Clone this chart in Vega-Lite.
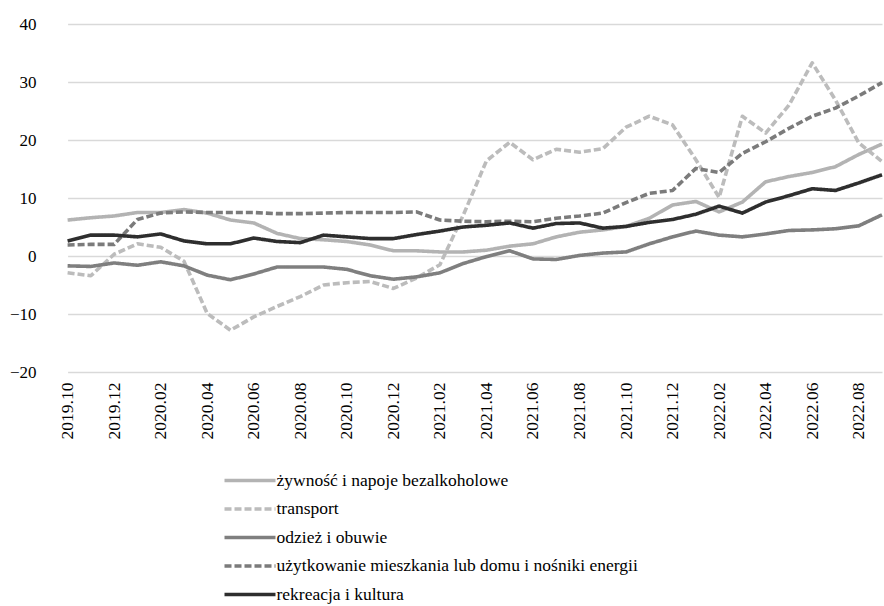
{
  "$schema": "https://vega.github.io/schema/vega-lite/v6.json",
  "autosize": "none",
  "width": 828,
  "height": 348,
  "padding": {"left": 56, "top": 24, "right": 0, "bottom": 234},
  "background": "white",
  "config": {
    "view": {"stroke": null}
  },
  "data": {
    "values": [
      {"m":"2019.10","s":"żywność i napoje bezalkoholowe","v":6.2},
      {"m":"2019.11","s":"żywność i napoje bezalkoholowe","v":6.6},
      {"m":"2019.12","s":"żywność i napoje bezalkoholowe","v":6.9},
      {"m":"2020.01","s":"żywność i napoje bezalkoholowe","v":7.5},
      {"m":"2020.02","s":"żywność i napoje bezalkoholowe","v":7.5},
      {"m":"2020.03","s":"żywność i napoje bezalkoholowe","v":8.0},
      {"m":"2020.04","s":"żywność i napoje bezalkoholowe","v":7.4},
      {"m":"2020.05","s":"żywność i napoje bezalkoholowe","v":6.2},
      {"m":"2020.06","s":"żywność i napoje bezalkoholowe","v":5.7},
      {"m":"2020.07","s":"żywność i napoje bezalkoholowe","v":3.9},
      {"m":"2020.08","s":"żywność i napoje bezalkoholowe","v":3.0},
      {"m":"2020.09","s":"żywność i napoje bezalkoholowe","v":2.8},
      {"m":"2020.10","s":"żywność i napoje bezalkoholowe","v":2.5},
      {"m":"2020.11","s":"żywność i napoje bezalkoholowe","v":1.9},
      {"m":"2020.12","s":"żywność i napoje bezalkoholowe","v":0.9},
      {"m":"2021.01","s":"żywność i napoje bezalkoholowe","v":0.9},
      {"m":"2021.02","s":"żywność i napoje bezalkoholowe","v":0.7},
      {"m":"2021.03","s":"żywność i napoje bezalkoholowe","v":0.7},
      {"m":"2021.04","s":"żywność i napoje bezalkoholowe","v":1.0},
      {"m":"2021.05","s":"żywność i napoje bezalkoholowe","v":1.7},
      {"m":"2021.06","s":"żywność i napoje bezalkoholowe","v":2.1},
      {"m":"2021.07","s":"żywność i napoje bezalkoholowe","v":3.3},
      {"m":"2021.08","s":"żywność i napoje bezalkoholowe","v":4.1},
      {"m":"2021.09","s":"żywność i napoje bezalkoholowe","v":4.5},
      {"m":"2021.10","s":"żywność i napoje bezalkoholowe","v":5.1},
      {"m":"2021.11","s":"żywność i napoje bezalkoholowe","v":6.5},
      {"m":"2021.12","s":"żywność i napoje bezalkoholowe","v":8.8},
      {"m":"2022.01","s":"żywność i napoje bezalkoholowe","v":9.4},
      {"m":"2022.02","s":"żywność i napoje bezalkoholowe","v":7.6},
      {"m":"2022.03","s":"żywność i napoje bezalkoholowe","v":9.3},
      {"m":"2022.04","s":"żywność i napoje bezalkoholowe","v":12.8},
      {"m":"2022.05","s":"żywność i napoje bezalkoholowe","v":13.7},
      {"m":"2022.06","s":"żywność i napoje bezalkoholowe","v":14.4},
      {"m":"2022.07","s":"żywność i napoje bezalkoholowe","v":15.4},
      {"m":"2022.08","s":"żywność i napoje bezalkoholowe","v":17.5},
      {"m":"2022.09","s":"żywność i napoje bezalkoholowe","v":19.3},

      {"m":"2019.10","s":"transport","v":-2.9},
      {"m":"2019.11","s":"transport","v":-3.4},
      {"m":"2019.12","s":"transport","v":0.3},
      {"m":"2020.01","s":"transport","v":2.1},
      {"m":"2020.02","s":"transport","v":1.5},
      {"m":"2020.03","s":"transport","v":-0.9},
      {"m":"2020.04","s":"transport","v":-9.9},
      {"m":"2020.05","s":"transport","v":-12.8},
      {"m":"2020.06","s":"transport","v":-10.5},
      {"m":"2020.07","s":"transport","v":-8.7},
      {"m":"2020.08","s":"transport","v":-7.0},
      {"m":"2020.09","s":"transport","v":-5.0},
      {"m":"2020.10","s":"transport","v":-4.6},
      {"m":"2020.11","s":"transport","v":-4.4},
      {"m":"2020.12","s":"transport","v":-5.6},
      {"m":"2021.01","s":"transport","v":-3.8},
      {"m":"2021.02","s":"transport","v":-1.5},
      {"m":"2021.03","s":"transport","v":7.0},
      {"m":"2021.04","s":"transport","v":16.4},
      {"m":"2021.05","s":"transport","v":19.6},
      {"m":"2021.06","s":"transport","v":16.6},
      {"m":"2021.07","s":"transport","v":18.4},
      {"m":"2021.08","s":"transport","v":17.9},
      {"m":"2021.09","s":"transport","v":18.5},
      {"m":"2021.10","s":"transport","v":22.2},
      {"m":"2021.11","s":"transport","v":24.1},
      {"m":"2021.12","s":"transport","v":22.6},
      {"m":"2022.01","s":"transport","v":16.6},
      {"m":"2022.02","s":"transport","v":10.1},
      {"m":"2022.03","s":"transport","v":24.1},
      {"m":"2022.04","s":"transport","v":21.2},
      {"m":"2022.05","s":"transport","v":26.0},
      {"m":"2022.06","s":"transport","v":33.3},
      {"m":"2022.07","s":"transport","v":26.9},
      {"m":"2022.08","s":"transport","v":19.5},
      {"m":"2022.09","s":"transport","v":16.3},

      {"m":"2019.10","s":"odzież i obuwie","v":-1.7},
      {"m":"2019.11","s":"odzież i obuwie","v":-1.8},
      {"m":"2019.12","s":"odzież i obuwie","v":-1.2},
      {"m":"2020.01","s":"odzież i obuwie","v":-1.6},
      {"m":"2020.02","s":"odzież i obuwie","v":-1.0},
      {"m":"2020.03","s":"odzież i obuwie","v":-1.7},
      {"m":"2020.04","s":"odzież i obuwie","v":-3.3},
      {"m":"2020.05","s":"odzież i obuwie","v":-4.1},
      {"m":"2020.06","s":"odzież i obuwie","v":-3.1},
      {"m":"2020.07","s":"odzież i obuwie","v":-1.9},
      {"m":"2020.08","s":"odzież i obuwie","v":-1.9},
      {"m":"2020.09","s":"odzież i obuwie","v":-1.9},
      {"m":"2020.10","s":"odzież i obuwie","v":-2.3},
      {"m":"2020.11","s":"odzież i obuwie","v":-3.4},
      {"m":"2020.12","s":"odzież i obuwie","v":-4.0},
      {"m":"2021.01","s":"odzież i obuwie","v":-3.6},
      {"m":"2021.02","s":"odzież i obuwie","v":-2.9},
      {"m":"2021.03","s":"odzież i obuwie","v":-1.3},
      {"m":"2021.04","s":"odzież i obuwie","v":-0.1},
      {"m":"2021.05","s":"odzież i obuwie","v":0.9},
      {"m":"2021.06","s":"odzież i obuwie","v":-0.5},
      {"m":"2021.07","s":"odzież i obuwie","v":-0.6},
      {"m":"2021.08","s":"odzież i obuwie","v":0.1},
      {"m":"2021.09","s":"odzież i obuwie","v":0.5},
      {"m":"2021.10","s":"odzież i obuwie","v":0.7},
      {"m":"2021.11","s":"odzież i obuwie","v":2.1},
      {"m":"2021.12","s":"odzież i obuwie","v":3.3},
      {"m":"2022.01","s":"odzież i obuwie","v":4.3},
      {"m":"2022.02","s":"odzież i obuwie","v":3.6},
      {"m":"2022.03","s":"odzież i obuwie","v":3.3},
      {"m":"2022.04","s":"odzież i obuwie","v":3.8},
      {"m":"2022.05","s":"odzież i obuwie","v":4.4},
      {"m":"2022.06","s":"odzież i obuwie","v":4.5},
      {"m":"2022.07","s":"odzież i obuwie","v":4.7},
      {"m":"2022.08","s":"odzież i obuwie","v":5.2},
      {"m":"2022.09","s":"odzież i obuwie","v":7.1},

      {"m":"2019.10","s":"użytkowanie mieszkania lub domu i nośniki energii","v":1.9},
      {"m":"2019.11","s":"użytkowanie mieszkania lub domu i nośniki energii","v":2.0},
      {"m":"2019.12","s":"użytkowanie mieszkania lub domu i nośniki energii","v":2.0},
      {"m":"2020.01","s":"użytkowanie mieszkania lub domu i nośniki energii","v":6.3},
      {"m":"2020.02","s":"użytkowanie mieszkania lub domu i nośniki energii","v":7.4},
      {"m":"2020.03","s":"użytkowanie mieszkania lub domu i nośniki energii","v":7.6},
      {"m":"2020.04","s":"użytkowanie mieszkania lub domu i nośniki energii","v":7.5},
      {"m":"2020.05","s":"użytkowanie mieszkania lub domu i nośniki energii","v":7.5},
      {"m":"2020.06","s":"użytkowanie mieszkania lub domu i nośniki energii","v":7.5},
      {"m":"2020.07","s":"użytkowanie mieszkania lub domu i nośniki energii","v":7.3},
      {"m":"2020.08","s":"użytkowanie mieszkania lub domu i nośniki energii","v":7.3},
      {"m":"2020.09","s":"użytkowanie mieszkania lub domu i nośniki energii","v":7.4},
      {"m":"2020.10","s":"użytkowanie mieszkania lub domu i nośniki energii","v":7.5},
      {"m":"2020.11","s":"użytkowanie mieszkania lub domu i nośniki energii","v":7.5},
      {"m":"2020.12","s":"użytkowanie mieszkania lub domu i nośniki energii","v":7.5},
      {"m":"2021.01","s":"użytkowanie mieszkania lub domu i nośniki energii","v":7.6},
      {"m":"2021.02","s":"użytkowanie mieszkania lub domu i nośniki energii","v":6.2},
      {"m":"2021.03","s":"użytkowanie mieszkania lub domu i nośniki energii","v":6.0},
      {"m":"2021.04","s":"użytkowanie mieszkania lub domu i nośniki energii","v":5.9},
      {"m":"2021.05","s":"użytkowanie mieszkania lub domu i nośniki energii","v":6.0},
      {"m":"2021.06","s":"użytkowanie mieszkania lub domu i nośniki energii","v":5.9},
      {"m":"2021.07","s":"użytkowanie mieszkania lub domu i nośniki energii","v":6.5},
      {"m":"2021.08","s":"użytkowanie mieszkania lub domu i nośniki energii","v":6.9},
      {"m":"2021.09","s":"użytkowanie mieszkania lub domu i nośniki energii","v":7.4},
      {"m":"2021.10","s":"użytkowanie mieszkania lub domu i nośniki energii","v":9.2},
      {"m":"2021.11","s":"użytkowanie mieszkania lub domu i nośniki energii","v":10.8},
      {"m":"2021.12","s":"użytkowanie mieszkania lub domu i nośniki energii","v":11.3},
      {"m":"2022.01","s":"użytkowanie mieszkania lub domu i nośniki energii","v":15.1},
      {"m":"2022.02","s":"użytkowanie mieszkania lub domu i nośniki energii","v":14.4},
      {"m":"2022.03","s":"użytkowanie mieszkania lub domu i nośniki energii","v":17.7},
      {"m":"2022.04","s":"użytkowanie mieszkania lub domu i nośniki energii","v":19.7},
      {"m":"2022.05","s":"użytkowanie mieszkania lub domu i nośniki energii","v":22.0},
      {"m":"2022.06","s":"użytkowanie mieszkania lub domu i nośniki energii","v":24.1},
      {"m":"2022.07","s":"użytkowanie mieszkania lub domu i nośniki energii","v":25.5},
      {"m":"2022.08","s":"użytkowanie mieszkania lub domu i nośniki energii","v":27.6},
      {"m":"2022.09","s":"użytkowanie mieszkania lub domu i nośniki energii","v":29.9},

      {"m":"2019.10","s":"rekreacja i kultura","v":2.6},
      {"m":"2019.11","s":"rekreacja i kultura","v":3.6},
      {"m":"2019.12","s":"rekreacja i kultura","v":3.6},
      {"m":"2020.01","s":"rekreacja i kultura","v":3.3},
      {"m":"2020.02","s":"rekreacja i kultura","v":3.8},
      {"m":"2020.03","s":"rekreacja i kultura","v":2.6},
      {"m":"2020.04","s":"rekreacja i kultura","v":2.1},
      {"m":"2020.05","s":"rekreacja i kultura","v":2.1},
      {"m":"2020.06","s":"rekreacja i kultura","v":3.1},
      {"m":"2020.07","s":"rekreacja i kultura","v":2.5},
      {"m":"2020.08","s":"rekreacja i kultura","v":2.3},
      {"m":"2020.09","s":"rekreacja i kultura","v":3.6},
      {"m":"2020.10","s":"rekreacja i kultura","v":3.3},
      {"m":"2020.11","s":"rekreacja i kultura","v":3.0},
      {"m":"2020.12","s":"rekreacja i kultura","v":3.0},
      {"m":"2021.01","s":"rekreacja i kultura","v":3.7},
      {"m":"2021.02","s":"rekreacja i kultura","v":4.3},
      {"m":"2021.03","s":"rekreacja i kultura","v":5.0},
      {"m":"2021.04","s":"rekreacja i kultura","v":5.3},
      {"m":"2021.05","s":"rekreacja i kultura","v":5.7},
      {"m":"2021.06","s":"rekreacja i kultura","v":4.8},
      {"m":"2021.07","s":"rekreacja i kultura","v":5.6},
      {"m":"2021.08","s":"rekreacja i kultura","v":5.7},
      {"m":"2021.09","s":"rekreacja i kultura","v":4.8},
      {"m":"2021.10","s":"rekreacja i kultura","v":5.1},
      {"m":"2021.11","s":"rekreacja i kultura","v":5.8},
      {"m":"2021.12","s":"rekreacja i kultura","v":6.3},
      {"m":"2022.01","s":"rekreacja i kultura","v":7.2},
      {"m":"2022.02","s":"rekreacja i kultura","v":8.6},
      {"m":"2022.03","s":"rekreacja i kultura","v":7.4},
      {"m":"2022.04","s":"rekreacja i kultura","v":9.3},
      {"m":"2022.05","s":"rekreacja i kultura","v":10.4},
      {"m":"2022.06","s":"rekreacja i kultura","v":11.6},
      {"m":"2022.07","s":"rekreacja i kultura","v":11.3},
      {"m":"2022.08","s":"rekreacja i kultura","v":12.6},
      {"m":"2022.09","s":"rekreacja i kultura","v":14.0}
    ]
  },
  "mark": {"type": "line", "strokeWidth": 3.6, "strokeCap": "butt", "strokeJoin": "round"},
  "encoding": {
    "x": {
      "field": "m",
      "type": "ordinal",
      "scale": {"type": "point", "padding": 0, "range": [11.6, 826]},
      "axis": {
        "title": null,
        "values": ["2019.10","2019.12","2020.02","2020.04","2020.06","2020.08","2020.10","2020.12","2021.02","2021.04","2021.06","2021.08","2021.10","2021.12","2022.02","2022.04","2022.06","2022.08"],
        "labelAngle": -90,
        "labelFont": "Liberation Serif",
        "labelColor": "#000000",
        "labelFontSize": 17.5,
        "labelPadding": 10,
        "ticks": false,
        "domain": false,
        "grid": false,
        "labelAlign": "right",
        "labelBaseline": "middle"
      }
    },
    "y": {
      "field": "v",
      "type": "quantitative",
      "scale": {"domain": [-20, 40], "nice": false, "zero": false},
      "axis": {
        "title": null,
        "values": [-20, -10, 0, 10, 20, 30, 40],
        "format": "d",
        "labelFont": "Liberation Serif",
        "labelColor": "#000000",
        "labelFontSize": 17,
        "labelPadding": 20,
        "ticks": false,
        "domain": false,
        "gridColor": "#d9d9d9",
        "gridWidth": 1.5
      }
    },
    "color": {
      "field": "s",
      "type": "nominal",
      "scale": {
        "domain": ["żywność i napoje bezalkoholowe","transport","odzież i obuwie","użytkowanie mieszkania lub domu i nośniki energii","rekreacja i kultura"],
        "range": ["#b3b3b3","#bcbcbc","#7f7f7f","#7b7b7b","#2e2e2e"]
      },
      "legend": {
        "title": null,
        "orient": "none",
        "legendX": 183.5,
        "legendY": 446,
        "direction": "vertical",
        "symbolType": "M-3,0L3,0",
        "symbolSize": 289,
        "symbolStrokeWidth": 3.5,
        "labelFont": "Liberation Serif",
        "labelFontSize": 17.5,
        "labelColor": "#000000",
        "labelOffset": 16,
        "rowPadding": 9.5,
        "labelLimit": 600
      }
    },
    "strokeDash": {
      "field": "s",
      "type": "nominal",
      "scale": {
        "domain": ["żywność i napoje bezalkoholowe","transport","odzież i obuwie","użytkowanie mieszkania lub domu i nośniki energii","rekreacja i kultura"],
        "range": [[1,0],[7,3],[1,0],[7,3],[1,0]]
      },
      "legend": {
        "title": null,
        "orient": "none",
        "legendX": 183.5,
        "legendY": 446,
        "direction": "vertical",
        "symbolType": "M-3,0L3,0",
        "symbolSize": 289,
        "symbolStrokeWidth": 3.5,
        "labelFont": "Liberation Serif",
        "labelFontSize": 17.5,
        "labelColor": "#000000",
        "labelOffset": 16,
        "rowPadding": 9.5,
        "labelLimit": 600
      }
    }
  }
}
